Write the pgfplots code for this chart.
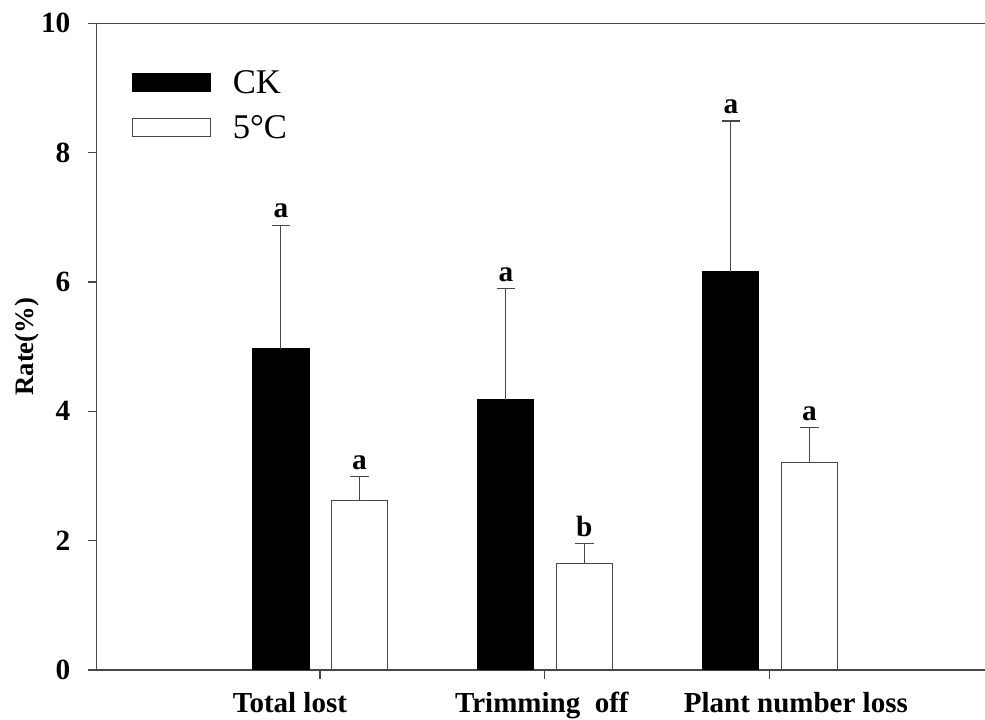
\documentclass[border=0pt]{standalone}
\usepackage{fontspec}
\setmainfont{Liberation Serif}
\usepackage{pgfplots}
\pgfplotsset{compat=1.18}
\definecolor{axgray}{RGB}{70,70,82}
\begin{document}
\begin{tikzpicture}
\begin{axis}[
  scale only axis, width=666pt, height=485pt,
  xmin=0.0076, xmax=3.955, ymin=0, ymax=10,
  axis x line=box, axis y line=left,
  axis line style={-, line width=1.1pt, draw=axgray},
  xtick={1,2,3},
  xticklabels={Total lost\kern45pt, Trimming\ \ off\kern4.5pt, \kern39pt Plant number loss},
  ytick={0,2,4,6,8,10},
  xtick pos=left, ytick pos=left,
  tick align=outside, major tick length=6.5pt,
  tick style={line width=0.9pt, draw=axgray},
  /pgf/number format/assume math mode=true,
  yticklabel style={font=\bfseries\fontsize{22}{22}\selectfont, inner sep=0pt, xshift=-13pt},
  xticklabel style={font=\bfseries\fontsize{21.75}{21.75}\selectfont, inner sep=0pt, yshift=-10pt},
  ylabel={Rate(\%)},
  ylabel style={font=\bfseries\fontsize{20}{20}\selectfont, at={(axis description cs:0,0.5)}, anchor=center, yshift=52pt},
  legend style={at={(axis description cs:0,1)}, anchor=north west, xshift=26pt, yshift=-33pt,
    draw=none, fill=none, font=\fontsize{26}{26}\selectfont, row sep=11pt, inner sep=0pt,
    /tikz/every even column/.append style={column sep=0pt}},
  legend cell align=left,
  legend image code/.code={\draw[#1, line width=0.9pt] (0pt,-6.75pt) rectangle (59pt,6.75pt); \path (73pt,0pt);},
]
\coordinate (O) at (rel axis cs:0,0);
\addplot[ybar, bar shift=0pt, bar width=0.249, fill=black, draw=black, line width=0.9pt,
  error bars/.cd, y dir=plus, y explicit,
  error bar style={line width=0.8pt, draw=axgray},
  error mark options={rotate=90, line width=0.8pt, draw=axgray, mark size=7pt}]
  coordinates {(0.8267,4.97) +- (0,1.91) (1.8267,4.18) +- (0,1.72) (2.8267,6.16) +- (0,2.33)};
\addlegendentry{CK}
\addplot[ybar, bar shift=0pt, bar width=0.249, fill=white, draw=axgray, line width=0.9pt,
  error bars/.cd, y dir=plus, y explicit,
  error bar style={line width=0.8pt, draw=axgray},
  error mark options={rotate=90, line width=0.8pt, draw=axgray, mark size=7pt}]
  coordinates {(1.1756,2.62) +- (0,0.37) (2.1756,1.65) +- (0,0.31) (3.1756,3.21) +- (0,0.54)};
\addlegendentry{5°C}
\addplot[forget plot, draw=none, mark=none, nodes near coords, point meta=explicit symbolic,
  nodes near coords style={anchor=south, inner sep=0pt, yshift=5pt, font=\bfseries\fontsize{22}{22}\selectfont}]
  coordinates {(0.8267,6.88)[a] (1.1756,2.99)[a] (1.8267,5.90)[a] (2.1756,1.96)[b] (2.8267,8.49)[a] (3.1756,3.75)[a]};
\end{axis}
\pgfresetboundingbox
\path (O) ++(-72.5pt,-37.5pt) rectangle ++(738.75pt,540pt);
\end{tikzpicture}
\end{document}
